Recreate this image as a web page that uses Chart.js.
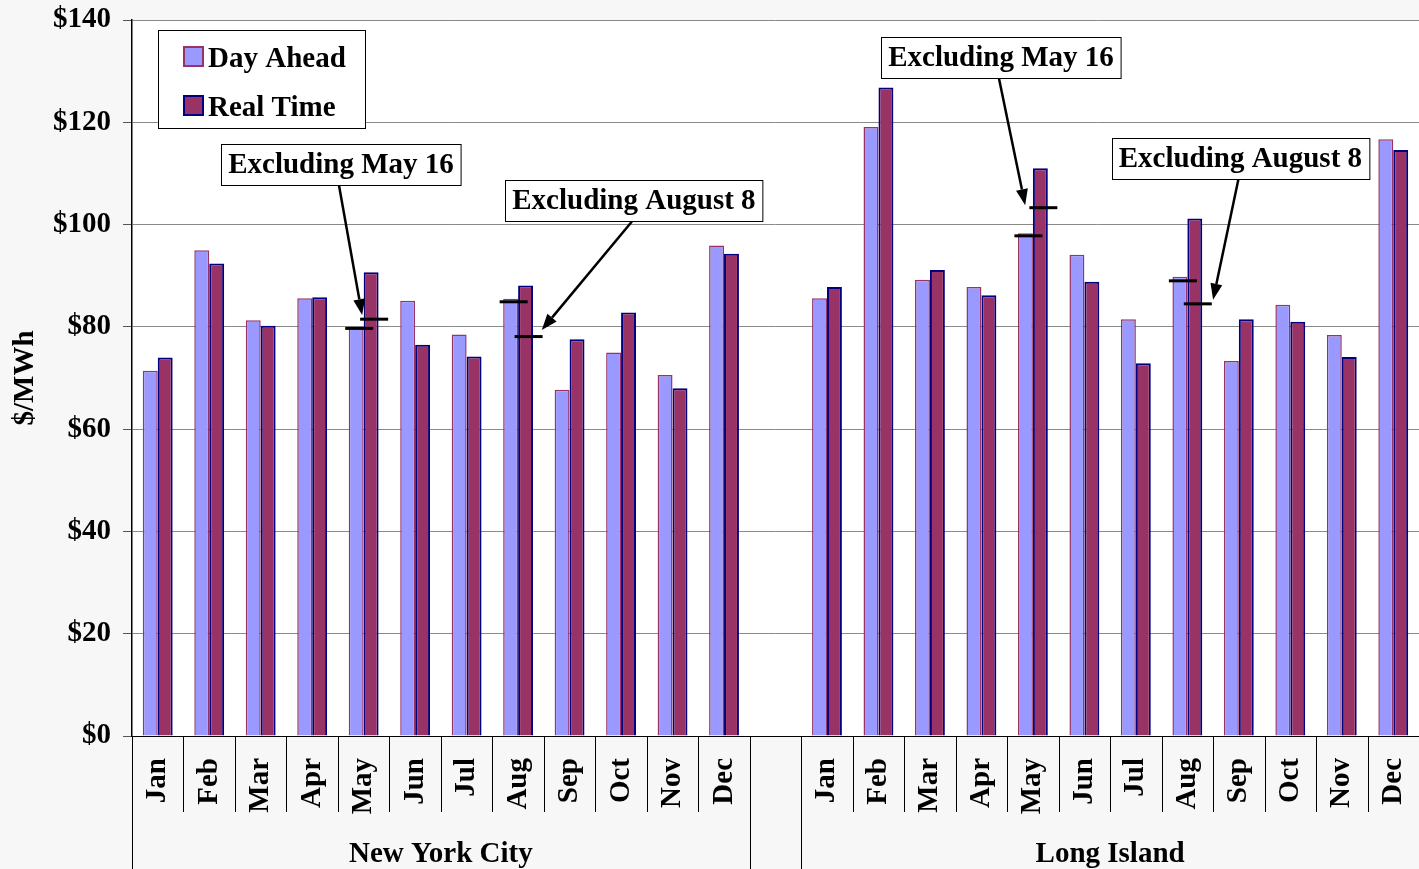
<!DOCTYPE html>
<html>
<head>
<meta charset="utf-8">
<script src="https://cdn.jsdelivr.net/npm/chart.js@4.4.1/dist/chart.umd.min.js"></script>
<style>
  html, body { margin: 0; padding: 0; background: #f7f7f7; }
</style>
</head>
<body>
<canvas id="chart" width="1419" height="869"></canvas>
<script>
const months = ["Jan", "Feb", "Mar", "Apr", "May", "Jun", "Jul", "Aug", "Sep", "Oct", "Nov", "Dec"];
const categories = [...months, "", ...months];

// NYC (12), gap, Long Island (12)
const dayAhead = [71.4, 95.0, 81.3, 85.6, 79.8, 85.1, 78.5, 85.5, 67.7, 75.0, 70.6, 95.9, null,
                  85.6, 119.1, 89.2, 87.8, 98.3, 94.1, 81.5, 89.8, 73.3, 84.3, 78.4, 116.7];
const realTime = [74.0, 92.4, 80.2, 85.8, 90.7, 76.5, 74.2, 88.1, 77.6, 82.8, 68.0, 94.3, null,
                  87.8, 126.8, 91.1, 86.2, 111.0, 88.8, 72.9, 101.2, 81.5, 81.0, 74.1, 114.6];

// averages excluding the spike days
const dayAheadExcl = [null, null, null, null, 79.7, null, null, 84.9, null, null, null, null, null,
                      null, null, null, null, 97.8, null, null, 89.0, null, null, null, null];
const realTimeExcl = [null, null, null, null, 81.5, null, null, 78.1, null, null, null, null, null,
                      null, null, null, null, 103.3, null, null, 84.5, null, null, null, null];

const groups = [
  { label: "New York City", from: 0, to: 11 },
  { label: "Long Island", from: 13, to: 24 },
];

// callouts: box centre and arrow tip as [category index, $ value]
const notes = [
  { text: "Excluding May 16", at: [3.56, 111.75], tip: [3.97, 82.3] },
  { text: "Excluding August 8", at: [9.25, 104.8], tip: [7.46, 79.4] },
  { text: "Excluding May 16", at: [16.38, 132.7], tip: [16.85, 103.8] },
  { text: "Excluding August 8", at: [21.03, 113.0], tip: [20.5, 85.3] },
];

const yMin = 0, yMax = 140, yStep = 20;

const FONT = "'Liberation Serif', 'Times New Roman', serif";
const font = { family: FONT, size: 29, weight: "bold" };

const decor = {
  id: "decor",
  beforeDraw(chart) {
    const { ctx, chartArea: a } = chart;
    ctx.save();
    ctx.fillStyle = "#f7f7f7";
    ctx.fillRect(0, 0, chart.width, chart.height);
    ctx.fillStyle = "#ffffff";
    ctx.fillRect(a.left, a.top, a.right - a.left, a.bottom - a.top);
    ctx.restore();
  },
  afterDraw(chart) {
    const { ctx, chartArea: a } = chart;
    const x = chart.scales.x, y = chart.scales.y;
    const fontStr = "bold 29px " + FONT;
    ctx.save();

    // "excluding" markers
    [dayAheadExcl, realTimeExcl].forEach((arr, di) => {
      const meta = chart.getDatasetMeta(di);
      arr.forEach((v, i) => {
        if (v == null) return;
        const bx = meta.data[i].x;
        const py = y.getPixelForValue(v);
        ctx.strokeStyle = "#000";
        ctx.lineWidth = 3;
        ctx.beginPath();
        ctx.moveTo(bx - 11, py);
        ctx.lineTo(bx + 17, py);
        ctx.stroke();
      });
    });

    // category separators below the axis
    ctx.strokeStyle = "#000";
    ctx.lineWidth = 1;
    const longAt = [];
    groups.forEach(g => { longAt.push(g.from - 0.5, g.to + 0.5); });
    for (let i = 0; i <= categories.length; i++) {
      const b = i - 0.5;
      const bx = Math.round(x.getPixelForValue(b)) + 0.5;
      const isLong = longAt.includes(b);
      const inGap = groups.every(g => b < g.from - 0.5 || b > g.to + 0.5);
      if (!isLong && inGap) continue;
      ctx.beginPath();
      ctx.moveTo(bx, a.bottom);
      ctx.lineTo(bx, isLong ? chart.height : a.bottom + 76);
      ctx.stroke();
    }

    // group labels
    ctx.fillStyle = "#000";
    ctx.font = fontStr;
    ctx.textAlign = "center";
    ctx.textBaseline = "middle";
    groups.forEach(g => {
      const cx = (x.getPixelForValue(g.from - 0.5) + Math.min(x.getPixelForValue(g.to + 0.5), a.right)) / 2;
      ctx.fillText(g.label, cx, a.bottom + 119);
    });

    // legend
    const lx = a.left + 26, ly = a.top + 10;
    ctx.fillStyle = "#fff";
    ctx.fillRect(lx, ly, 207, 98);
    ctx.strokeStyle = "#000";
    ctx.lineWidth = 1;
    ctx.strokeRect(lx + 0.5, ly + 0.5, 207, 98);
    chart.data.datasets.forEach((ds, i) => {
      const sy = ly + 17 + i * 49;
      ctx.fillStyle = ds.backgroundColor;
      ctx.fillRect(lx + 26, sy, 19, 19);
      ctx.strokeStyle = ds.borderColor;
      ctx.lineWidth = 2;
      ctx.strokeRect(lx + 26, sy, 19, 19);
      ctx.fillStyle = "#000";
      ctx.textAlign = "left";
      ctx.textBaseline = "middle";
      ctx.fillText(ds.label, lx + 50, sy + 13);
    });

    // callouts with arrows
    notes.forEach(n => {
      const cx = x.getPixelForValue(n.at[0]);
      const cy = y.getPixelForValue(n.at[1]);
      const w = ctx.measureText(n.text).width + 14;
      const h = 41;
      const bx = Math.round(cx - w / 2) + 0.5, by = Math.round(cy - h / 2) + 0.5;
      ctx.fillStyle = "#fff";
      ctx.fillRect(bx, by, w, h);
      ctx.strokeStyle = "#000";
      ctx.lineWidth = 1;
      ctx.strokeRect(bx, by, w, h);
      ctx.fillStyle = "#000";
      ctx.textAlign = "center";
      ctx.textBaseline = "middle";
      ctx.fillText(n.text, cx, cy + 1);

      const tx = x.getPixelForValue(n.tip[0]);
      const ty = y.getPixelForValue(n.tip[1]);
      const sx = cx - 2, sy = by + h;
      const ang = Math.atan2(ty - sy, tx - sx);
      const hl = 16, hw = 6;
      ctx.strokeStyle = "#000";
      ctx.lineWidth = 2.5;
      ctx.beginPath();
      ctx.moveTo(sx, sy);
      ctx.lineTo(tx - Math.cos(ang) * hl, ty - Math.sin(ang) * hl);
      ctx.stroke();
      ctx.beginPath();
      ctx.moveTo(tx, ty);
      ctx.lineTo(tx - Math.cos(ang) * hl - Math.sin(ang) * hw, ty - Math.sin(ang) * hl + Math.cos(ang) * hw);
      ctx.lineTo(tx - Math.cos(ang) * hl + Math.sin(ang) * hw, ty - Math.sin(ang) * hl - Math.cos(ang) * hw);
      ctx.closePath();
      ctx.fill();
    });

    ctx.restore();
  },
};

new Chart(document.getElementById("chart"), {
  type: "bar",
  data: {
    labels: categories,
    datasets: [
      {
        label: "Day Ahead",
        data: dayAhead,
        backgroundColor: "#9999ff",
        borderColor: "#993366",
        borderWidth: 1.5,
        borderSkipped: "bottom",
      },
      {
        label: "Real Time",
        data: realTime,
        backgroundColor: "#993366",
        borderColor: "#000080",
        borderWidth: 2,
        borderSkipped: "bottom",
      },
    ],
  },
  options: {
    responsive: false,
    animation: false,
    devicePixelRatio: 1,
    layout: { padding: { top: 20, left: 0, right: 0, bottom: 0 } },
    datasets: { bar: { categoryPercentage: 0.58, barPercentage: 1.0 } },
    plugins: {
      legend: { display: false },
      tooltip: { enabled: false },
    },
    scales: {
      x: {
        offset: true,
        grid: { display: false },
        border: { color: "#000", width: 1 },
        ticks: {
          autoSkip: false,
          minRotation: 90,
          maxRotation: 90,
          padding: 14,
          color: "#000",
          font: font,
        },
        afterFit: s => { s.height = 133; s.paddingLeft = 0; s.paddingRight = 0; },
      },
      y: {
        min: yMin,
        max: yMax,
        grid: { color: "#8a8a8a", lineWidth: 1, tickLength: 9, tickColor: "#555" },
        border: { color: "#000", width: 1.5 },
        ticks: {
          stepSize: yStep,
          padding: 12,
          color: "#000",
          font: font,
          callback: v => "$" + v,
        },
        title: { display: true, text: "$/MWh", color: "#000", font: font, padding: 8 },
        afterFit: s => { s.width = 132; s.paddingTop = 0; s.paddingBottom = 0; },
      },
    },
  },
  plugins: [decor],
});
</script>
</body>
</html>
